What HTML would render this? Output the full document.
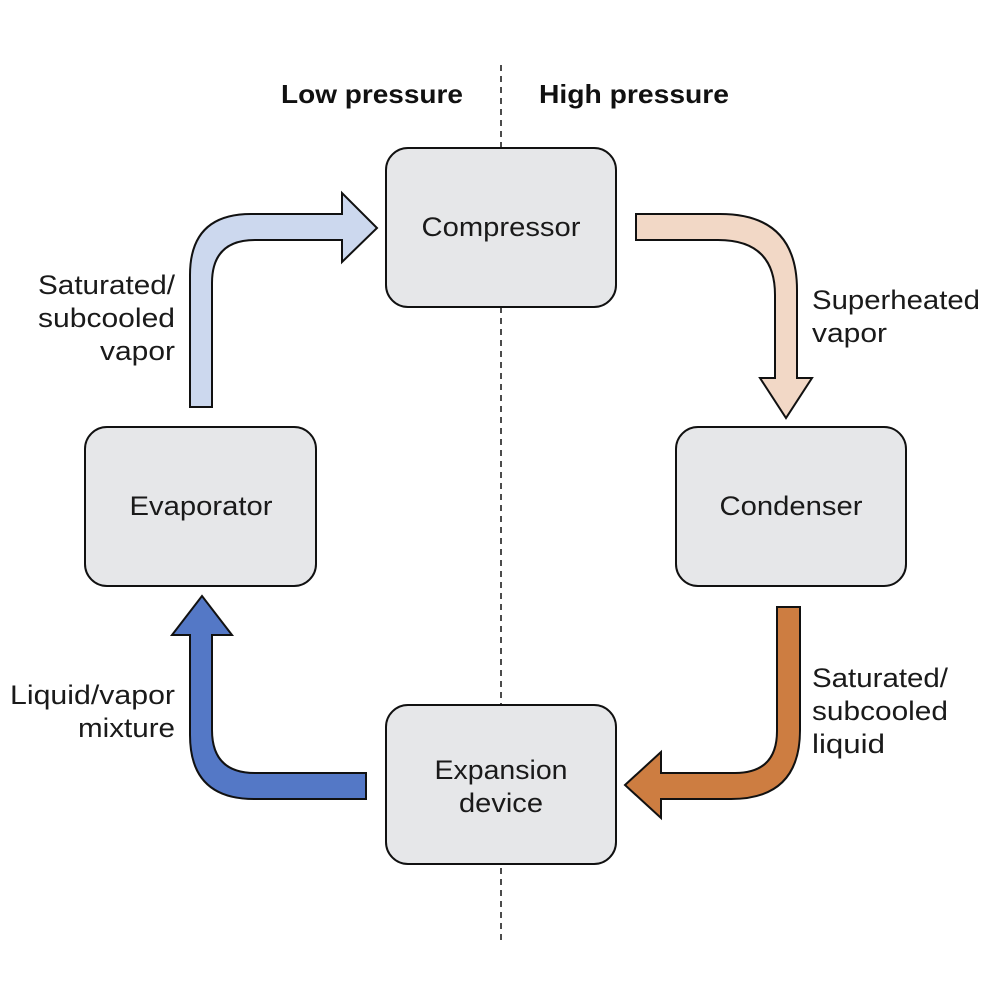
<!DOCTYPE html>
<html><head><meta charset="utf-8"><style>html,body{margin:0;padding:0;background:#fff}</style></head>
<body>
<svg width="992" height="992" viewBox="0 0 992 992" xmlns="http://www.w3.org/2000/svg" font-family="Liberation Sans, sans-serif">
<rect width="992" height="992" fill="#fff"/>
<line x1="501" y1="65" x2="501" y2="940" stroke="#111" stroke-width="1.5" stroke-dasharray="6,5"/>
<text x="372" y="103" font-size="26" font-weight="bold" text-anchor="middle" textLength="182" lengthAdjust="spacingAndGlyphs" fill="#111">Low pressure</text>
<text x="634" y="103" font-size="26" font-weight="bold" text-anchor="middle" textLength="190" lengthAdjust="spacingAndGlyphs" fill="#111">High pressure</text>
<g fill="#e6e7e9" stroke="#111" stroke-width="2">
<rect x="386" y="148" width="230" height="159" rx="22"/>
<rect x="85" y="427" width="231" height="159" rx="22"/>
<rect x="676" y="427" width="230" height="159" rx="22"/>
<rect x="386" y="705" width="230" height="159" rx="22"/>
</g>
<g font-size="27" fill="#1a1a1a" text-anchor="middle">
<text x="501" y="236" textLength="159" lengthAdjust="spacingAndGlyphs">Compressor</text>
<text x="201" y="515" textLength="143" lengthAdjust="spacingAndGlyphs">Evaporator</text>
<text x="791" y="515" textLength="143" lengthAdjust="spacingAndGlyphs">Condenser</text>
<text x="501" y="779" textLength="133" lengthAdjust="spacingAndGlyphs">Expansion</text>
<text x="501" y="812" textLength="84" lengthAdjust="spacingAndGlyphs">device</text>
</g>
<g stroke="#111" stroke-width="2" stroke-linejoin="miter">
<path fill="#ccd8ee" d="M190,407 L190,275 Q190,214 251,214 L342,214 L342,193 L377,228 L342,262 L342,240 L255,240 Q212,240 212,283 L212,407 Z"/>
<path fill="#f2d8c6" d="M636,214 L720,214 Q797,214 797,290 L797,378 L812,378 L786,418 L760,378 L775,378 L775,295 Q775,240 718,240 L636,240 Z"/>
<path fill="#cd7d41" d="M777,607 L800,607 L800,730 Q800,799 731,799 L661,799 L661,818 L625,785 L661,752 L661,773 L735,773 Q777,773 777,731 Z"/>
<path fill="#5478c6" d="M366,773 L255,773 Q212,773 212,730 L212,635 L232,635 L202,596 L172,635 L190,635 L190,735 Q190,799 254,799 L366,799 Z"/>
</g>
<g font-size="27" fill="#1a1a1a">
<g text-anchor="end">
<text x="175" y="294" textLength="137" lengthAdjust="spacingAndGlyphs">Saturated/</text>
<text x="175" y="327" textLength="137" lengthAdjust="spacingAndGlyphs">subcooled</text>
<text x="175" y="360" textLength="75" lengthAdjust="spacingAndGlyphs">vapor</text>
<text x="175" y="704" textLength="165" lengthAdjust="spacingAndGlyphs">Liquid/vapor</text>
<text x="175" y="737" textLength="97" lengthAdjust="spacingAndGlyphs">mixture</text>
</g>
<text x="812" y="309" textLength="168" lengthAdjust="spacingAndGlyphs">Superheated</text>
<text x="812" y="342" textLength="75" lengthAdjust="spacingAndGlyphs">vapor</text>
<text x="812" y="687" textLength="136" lengthAdjust="spacingAndGlyphs">Saturated/</text>
<text x="812" y="720" textLength="136" lengthAdjust="spacingAndGlyphs">subcooled</text>
<text x="812" y="753" textLength="73" lengthAdjust="spacingAndGlyphs">liquid</text>
</g>
</svg>
</body></html>
